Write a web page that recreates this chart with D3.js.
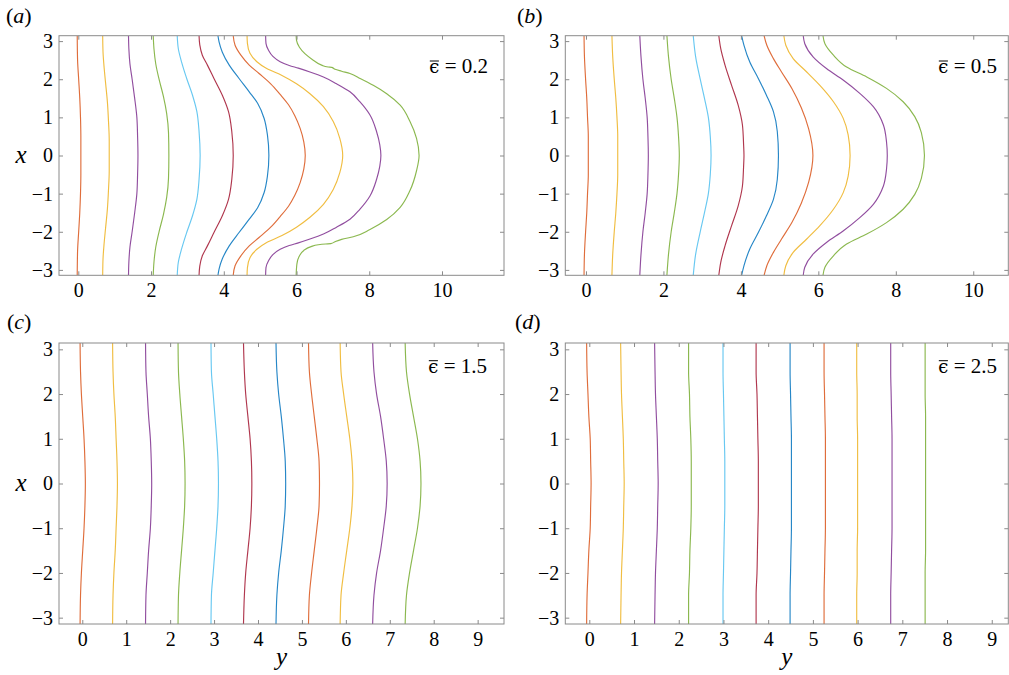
<!DOCTYPE html>
<html>
<head>
<meta charset="utf-8">
<script src="https://cdn.jsdelivr.net/npm/d3@7"></script>
<style>
  body { margin: 0; background: #fff; }
  svg { display: block; }
</style>
</head>
<body>
<div id="chart"></div>
<script>
// line colours, in the order the contours are drawn (left to right)
const lineColors = ['#D95319', '#EDB120', '#7E2F8E', '#77AC30', '#4DBEEE', '#A2142F',
                    '#0072BD', '#D95319', '#EDB120', '#7E2F8E', '#77AC30'];

const panelLetters = ['a', 'b', 'c', 'd'];
const epsValues = ['0.2', '0.5', '1.5', '2.5'];
const vTicks = [-3, -2, -1, 0, 1, 2, 3];
const hTicksTop = [0, 2, 4, 6, 8, 10];
const hTicksBottom = [0, 1, 2, 3, 4, 5, 6, 7, 8, 9];

// panels (a) and (b): each contour as [y, x] points, top to bottom
const curvesA = [
  [[-0.03,3.14],[-0.02,2.5],[0.01,2.0],[0.04,1.5],[0.06,1.0],[0.07,0.5],[0.07,0],[0.07,-0.5],[0.06,-1.0],[0.04,-1.5],[0.01,-2.0],[-0.02,-2.5],[-0.03,-3.14]],
  [[0.67,3.14],[0.68,2.7],[0.71,2.3],[0.75,1.9],[0.80,1.4],[0.83,0.9],[0.85,0.4],[0.85,0],[0.85,-0.4],[0.83,-0.9],[0.80,-1.4],[0.75,-1.9],[0.71,-2.3],[0.68,-2.7],[0.67,-3.14]],
  [[1.38,3.14],[1.39,2.8],[1.42,2.4],[1.48,2.0],[1.55,1.5],[1.61,1.0],[1.63,0.5],[1.64,0],[1.63,-0.5],[1.61,-1.0],[1.55,-1.5],[1.48,-2.0],[1.42,-2.4],[1.39,-2.8],[1.38,-3.14]],
  [[2.06,3.14],[2.08,2.8],[2.13,2.4],[2.22,2.0],[2.34,1.55],[2.43,1.1],[2.48,0.6],[2.49,0],[2.48,-0.6],[2.43,-1.1],[2.34,-1.55],[2.22,-2.0],[2.13,-2.4],[2.08,-2.8],[2.06,-3.14]],
  [[2.72,3.14],[2.75,2.8],[2.84,2.45],[2.98,2.02],[3.14,1.58],[3.26,1.15],[3.32,0.63],[3.35,0],[3.32,-0.63],[3.26,-1.15],[3.14,-1.58],[2.98,-2.02],[2.84,-2.45],[2.75,-2.8],[2.72,-3.14]],
  [[3.32,3.14],[3.34,2.9],[3.41,2.63],[3.55,2.37],[3.73,2.02],[3.96,1.58],[4.13,1.15],[4.22,0.63],[4.26,0],[4.22,-0.63],[4.13,-1.15],[3.96,-1.58],[3.73,-2.02],[3.55,-2.37],[3.41,-2.63],[3.34,-2.9],[3.32,-3.14]],
  [[3.84,3.14],[3.87,2.98],[3.96,2.71],[4.15,2.37],[4.42,2.02],[4.70,1.67],[4.93,1.37],[5.11,0.97],[5.20,0.54],[5.24,0],[5.20,-0.54],[5.11,-0.97],[4.93,-1.37],[4.70,-1.67],[4.42,-2.02],[4.15,-2.37],[3.96,-2.71],[3.87,-2.98],[3.84,-3.14]],
  [[4.26,3.14],[4.31,2.89],[4.47,2.63],[4.70,2.37],[4.97,2.15],[5.29,1.88],[5.55,1.60],[5.78,1.33],[5.95,1.05],[6.10,0.71],[6.20,0.36],[6.24,0],[6.20,-0.36],[6.10,-0.71],[5.95,-1.05],[5.78,-1.33],[5.55,-1.60],[5.29,-1.88],[4.97,-2.15],[4.70,-2.37],[4.47,-2.63],[4.31,-2.89],[4.26,-3.14]],
  [[4.64,3.14],[4.65,2.94],[4.72,2.68],[4.91,2.46],[5.18,2.28],[5.60,2.10],[6.00,1.88],[6.37,1.62],[6.74,1.28],[7.01,0.89],[7.19,0.45],[7.27,0],[7.19,-0.45],[7.01,-0.89],[6.74,-1.28],[6.37,-1.62],[6.00,-1.88],[5.60,-2.10],[5.18,-2.28],[4.91,-2.46],[4.72,-2.68],[4.65,-2.94],[4.64,-3.14]],
  [[5.15,3.14],[5.16,2.94],[5.23,2.76],[5.35,2.60],[5.55,2.46],[5.80,2.36],[6.05,2.29],[6.37,2.19],[6.74,2.06],[7.10,1.88],[7.47,1.67],[7.74,1.41],[8.02,1.06],[8.20,0.63],[8.29,0.28],[8.32,0],[8.29,-0.28],[8.20,-0.63],[8.02,-1.06],[7.74,-1.41],[7.47,-1.67],[7.10,-1.88],[6.74,-2.06],[6.37,-2.19],[6.05,-2.29],[5.80,-2.36],[5.55,-2.46],[5.35,-2.60],[5.23,-2.76],[5.16,-2.94],[5.15,-3.14]],
  [[5.99,3.14],[6.00,3.02],[6.08,2.84],[6.23,2.67],[6.46,2.50],[6.69,2.37],[6.87,2.32],[6.97,2.31],[7.06,2.26],[7.24,2.21],[7.47,2.15],[7.75,2.02],[8.11,1.84],[8.48,1.62],[8.85,1.32],[9.12,0.89],[9.30,0.45],[9.37,0],[9.30,-0.40],[9.12,-0.92],[8.85,-1.36],[8.48,-1.68],[8.02,-1.94],[7.56,-2.13],[7.24,-2.20],[7.06,-2.26],[6.94,-2.31],[6.80,-2.32],[6.60,-2.34],[6.40,-2.39],[6.20,-2.49],[6.07,-2.65],[6.01,-2.85],[5.99,-3.14]]
];

const curvesB = [
  [[-0.05,3.14],[-0.04,2.6],[-0.01,2.0],[0.02,1.5],[0.04,1.0],[0.06,0.5],[0.06,0],[0.06,-0.5],[0.04,-1.0],[0.02,-1.5],[-0.01,-2.0],[-0.04,-2.6],[-0.05,-3.14]],
  [[0.67,3.14],[0.69,2.6],[0.73,2.0],[0.77,1.5],[0.80,1.0],[0.82,0.5],[0.82,0],[0.82,-0.5],[0.80,-1.0],[0.77,-1.5],[0.73,-2.0],[0.69,-2.6],[0.67,-3.14]],
  [[1.39,3.14],[1.42,2.6],[1.47,2.0],[1.53,1.5],[1.58,1.0],[1.60,0.5],[1.61,0],[1.60,-0.5],[1.58,-1.0],[1.53,-1.5],[1.47,-2.0],[1.42,-2.6],[1.39,-3.14]],
  [[2.09,3.14],[2.13,2.6],[2.20,2.0],[2.28,1.5],[2.35,1.0],[2.39,0.5],[2.41,0],[2.39,-0.5],[2.35,-1.0],[2.28,-1.5],[2.20,-2.0],[2.13,-2.6],[2.09,-3.14]],
  [[2.77,3.14],[2.83,2.6],[2.95,2.0],[3.06,1.5],[3.16,1.0],[3.21,0.5],[3.23,0],[3.21,-0.5],[3.16,-1.0],[3.06,-1.5],[2.95,-2.0],[2.83,-2.6],[2.77,-3.14]],
  [[3.43,3.14],[3.48,2.80],[3.59,2.37],[3.76,1.84],[3.93,1.32],[4.04,0.80],[4.07,0.28],[4.08,0],[4.07,-0.28],[4.04,-0.80],[3.93,-1.32],[3.76,-1.84],[3.59,-2.37],[3.48,-2.80],[3.43,-3.14]],
  [[4.02,3.14],[4.08,2.89],[4.23,2.45],[4.45,2.02],[4.66,1.58],[4.84,1.15],[4.94,0.63],[4.97,0],[4.94,-0.63],[4.84,-1.15],[4.66,-1.58],[4.45,-2.02],[4.23,-2.45],[4.08,-2.89],[4.02,-3.14]],
  [[4.60,3.14],[4.67,2.89],[4.84,2.54],[5.05,2.19],[5.32,1.75],[5.56,1.25],[5.75,0.70],[5.86,0],[5.75,-0.70],[5.56,-1.25],[5.32,-1.75],[5.05,-2.19],[4.84,-2.54],[4.67,-2.89],[4.60,-3.14]],
  [[5.11,3.14],[5.16,2.89],[5.35,2.54],[5.70,2.19],[6.04,1.84],[6.39,1.41],[6.64,0.98],[6.77,0.54],[6.82,0],[6.77,-0.54],[6.64,-0.98],[6.39,-1.41],[6.04,-1.84],[5.70,-2.19],[5.35,-2.54],[5.16,-2.89],[5.11,-3.14]],
  [[5.61,3.14],[5.65,2.93],[5.87,2.58],[6.21,2.28],[6.64,1.98],[7.07,1.63],[7.42,1.28],[7.68,0.80],[7.76,0.36],[7.78,0],[7.76,-0.36],[7.68,-0.80],[7.42,-1.28],[7.07,-1.63],[6.64,-1.98],[6.21,-2.28],[5.87,-2.58],[5.65,-2.93],[5.61,-3.14]],
  [[6.12,3.14],[6.17,2.93],[6.39,2.63],[6.73,2.32],[7.25,2.06],[7.76,1.76],[8.19,1.41],[8.49,1.02],[8.66,0.60],[8.74,0],[8.66,-0.60],[8.49,-1.02],[8.19,-1.41],[7.76,-1.76],[7.25,-2.06],[6.73,-2.32],[6.39,-2.63],[6.17,-2.93],[6.12,-3.14]]
];

// panels (c) and (d): y of each contour at fixed x levels
const xLevelsCD = [3.14, 2.5, 2.0, 1.5, 1.0, 0.5, 0, -0.5, -1.0, -1.5, -2.0, -2.5, -3.14];

const curvesC = [
  [-0.05,-0.04,-0.02,0.01,0.04,0.06,0.07,0.06,0.04,0.01,-0.02,-0.04,-0.05],
  [0.69,0.70,0.72,0.75,0.77,0.79,0.80,0.79,0.77,0.75,0.72,0.70,0.69],
  [1.44,1.45,1.48,1.51,1.55,1.57,1.58,1.57,1.55,1.51,1.48,1.45,1.44],
  [2.18,2.19,2.22,2.26,2.30,2.33,2.34,2.33,2.30,2.26,2.22,2.19,2.18],
  [2.93,2.94,2.98,3.02,3.06,3.09,3.10,3.09,3.06,3.02,2.98,2.94,2.93],
  [3.67,3.69,3.72,3.77,3.82,3.85,3.86,3.85,3.82,3.77,3.72,3.69,3.67],
  [4.41,4.43,4.47,4.53,4.58,4.62,4.63,4.62,4.58,4.53,4.47,4.43,4.41],
  [5.15,5.17,5.22,5.28,5.34,5.39,5.40,5.39,5.34,5.28,5.22,5.17,5.15],
  [5.87,5.89,5.95,6.02,6.09,6.14,6.16,6.14,6.09,6.02,5.95,5.89,5.87],
  [6.61,6.64,6.70,6.79,6.86,6.92,6.94,6.92,6.86,6.79,6.70,6.64,6.61],
  [7.35,7.38,7.45,7.54,7.63,7.69,7.71,7.69,7.63,7.54,7.45,7.38,7.35]
];

const curvesD = [
  [-0.06,-0.05,-0.03,-0.01,0.02,0.03,0.04,0.03,0.02,-0.01,-0.03,-0.05,-0.06],
  [0.70,0.71,0.72,0.74,0.76,0.77,0.78,0.77,0.76,0.74,0.72,0.71,0.70],
  [1.46,1.47,1.48,1.50,1.52,1.53,1.54,1.53,1.52,1.50,1.48,1.47,1.46],
  [2.22,2.22,2.24,2.25,2.27,2.28,2.28,2.28,2.27,2.25,2.24,2.22,2.22],
  [2.99,2.99,3.00,3.01,3.02,3.03,3.03,3.03,3.02,3.01,3.00,2.99,2.99],
  [3.73,3.73,3.75,3.76,3.77,3.78,3.78,3.78,3.77,3.76,3.75,3.73,3.73],
  [4.49,4.49,4.50,4.51,4.52,4.52,4.52,4.52,4.52,4.51,4.50,4.49,4.49],
  [5.25,5.25,5.26,5.27,5.28,5.28,5.28,5.28,5.28,5.27,5.26,5.25,5.25],
  [5.98,5.98,5.99,5.99,6.00,6.00,6.00,6.00,6.00,5.99,5.99,5.98,5.98],
  [6.74,6.74,6.75,6.76,6.77,6.77,6.77,6.77,6.77,6.76,6.75,6.74,6.74],
  [7.51,7.51,7.51,7.52,7.52,7.52,7.52,7.52,7.52,7.52,7.51,7.51,7.51]
];

const toPoints = rows => rows.map(r => r.map((v, i) => [v, xLevelsCD[i]]));

// frame of each panel in page pixels
const layout = [
  { left: 59,    right: 504,    top: 35.7, bottom: 275.3, hDomain: [-0.531, 11.705], hTicks: hTicksTop,    curves: curvesA,           epsX: 488, epsY: 73,    tagX: 6,   tagY: 23,  showX: true,  showY: false },
  { left: 565.3, right: 1008.3, top: 35.7, bottom: 275.3, hDomain: [-0.534, 10.905], hTicks: hTicksTop,    curves: curvesB,           epsX: 997, epsY: 73,    tagX: 517, tagY: 23,  showX: false, showY: false },
  { left: 59,    right: 504,    top: 343,  bottom: 624,   hDomain: [-0.530, 9.600],  hTicks: hTicksBottom, curves: toPoints(curvesC), epsX: 487, epsY: 372.7, tagX: 7,   tagY: 329, showX: true,  showY: true },
  { left: 565.3, right: 1008.3, top: 343,  bottom: 624,   hDomain: [-0.537, 9.370],  hTicks: hTicksBottom, curves: toPoints(curvesD), epsX: 997, epsY: 372.7, tagX: 515, tagY: 329, showX: false, showY: true }
];

const W = 1009, H = 675;
const frameColor = '#8a8a8a';
const serif = '"Liberation Serif"';
const svg = d3.select('#chart').append('svg').attr('width', W).attr('height', H);

layout.forEach((p, k) => {
  const hScale = d3.scaleLinear().domain(p.hDomain).range([p.left, p.right]);
  const vScale = d3.scaleLinear().domain([-Math.PI, Math.PI]).range([p.bottom, p.top]);
  const g = svg.append('g');

  const clipId = 'clip-' + k;
  svg.append('clipPath').attr('id', clipId).append('rect')
    .attr('x', p.left).attr('y', p.top)
    .attr('width', p.right - p.left).attr('height', p.bottom - p.top);

  const line = d3.line()
    .x(d => hScale(d[0]))
    .y(d => vScale(d[1]))
    .curve(d3.curveMonotoneY);

  g.append('g').attr('clip-path', `url(#${clipId})`)
    .selectAll('path').data(p.curves).join('path')
    .attr('d', line)
    .attr('fill', 'none')
    .attr('stroke', (d, i) => lineColors[i])
    .attr('stroke-opacity', 0.85)
    .attr('stroke-width', 1.15);

  // axes with inward ticks on all four sides
  const intFmt = d3.format('d');
  const bottomAx = g.append('g').attr('transform', `translate(0,${p.bottom})`)
    .call(d3.axisBottom(hScale).tickValues(p.hTicks).tickFormat(intFmt).tickSize(-4).tickSizeOuter(0).tickPadding(8));
  const topAx = g.append('g').attr('transform', `translate(0,${p.top})`)
    .call(d3.axisTop(hScale).tickValues(p.hTicks).tickSize(-4).tickSizeOuter(0).tickFormat(''));
  const leftAx = g.append('g').attr('transform', `translate(${p.left},0)`)
    .call(d3.axisLeft(vScale).tickValues(vTicks).tickFormat(intFmt).tickSize(-4).tickSizeOuter(0).tickPadding(6));
  const rightAx = g.append('g').attr('transform', `translate(${p.right},0)`)
    .call(d3.axisRight(vScale).tickValues(vTicks).tickSize(-4).tickSizeOuter(0).tickFormat(''));

  [bottomAx, topAx, leftAx, rightAx].forEach(ax => {
    ax.attr('font-family', serif).attr('font-size', 20);
    ax.select('.domain').remove();
    ax.selectAll('line').attr('stroke', frameColor);
    ax.selectAll('text').attr('fill', '#000');
  });

  g.append('rect')
    .attr('x', p.left).attr('y', p.top)
    .attr('width', p.right - p.left).attr('height', p.bottom - p.top)
    .attr('fill', 'none').attr('stroke', frameColor).attr('stroke-width', 1);

  // panel tag (a) ... (d)
  const tag = g.append('text').attr('x', p.tagX).attr('y', p.tagY)
    .attr('font-family', serif).attr('font-size', 22);
  tag.append('tspan').text('(');
  tag.append('tspan').attr('font-style', 'italic').text(panelLetters[k]);
  tag.append('tspan').text(')');

  // epsilon-bar label
  const eps = g.append('text').attr('x', p.epsX).attr('y', p.epsY)
    .attr('text-anchor', 'end').attr('font-family', serif).attr('font-size', 21);
  eps.append('tspan').attr('font-family', '"DejaVu Serif"').attr('font-size', 18).text('\u03F5');
  eps.append('tspan').text(' = ' + epsValues[k]);
  const box = eps.node().getExtentOfChar(0);
  g.append('line')
    .attr('x1', box.x + 0.5).attr('x2', box.x + box.width - 0.5)
    .attr('y1', p.epsY - 12).attr('y2', p.epsY - 12)
    .attr('stroke', '#000').attr('stroke-width', 1);

  if (p.showX) {
    g.append('text').attr('x', 21).attr('y', vScale(0) + 7)
      .attr('text-anchor', 'middle').attr('font-family', serif)
      .attr('font-size', 25).attr('font-style', 'italic')
      .text('x');
  }
  if (p.showY) {
    g.append('text').attr('x', (p.left + p.right) / 2).attr('y', 665)
      .attr('text-anchor', 'middle').attr('font-family', serif)
      .attr('font-size', 25).attr('font-style', 'italic')
      .text('y');
  }
});
</script>
</body>
</html>
